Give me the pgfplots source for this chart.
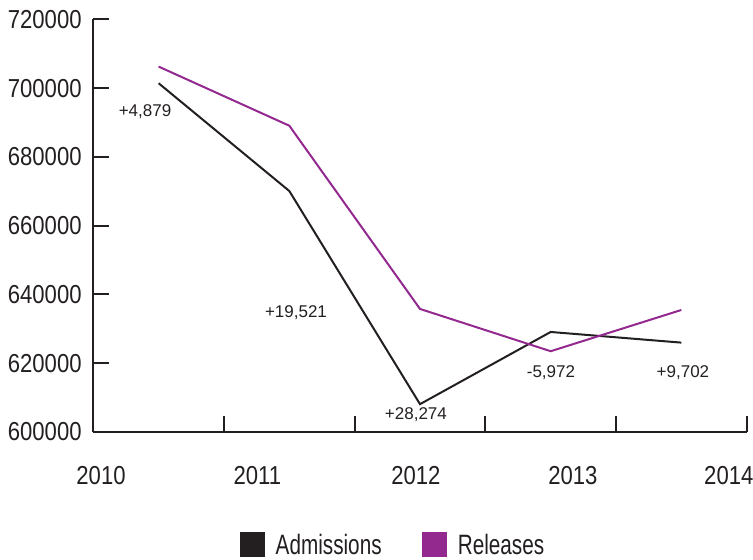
\documentclass[border=0pt]{standalone}
\usepackage{fontspec}
\setmainfont{Liberation Sans}
\newfontfamily\condfont{Liberation Sans}[FakeStretch=0.85]
\newfontfamily\legfont{Liberation Sans}[FakeStretch=0.74]
\usepackage{pgfplots}
\pgfplotsset{compat=1.18}
\definecolor{ink}{HTML}{231F20}
\definecolor{relpurple}{RGB}{147,40,143}
\newcommand{\tickfont}{\condfont\fontsize{26bp}{30bp}\selectfont}
\newcommand{\notefont}{\fontsize{17bp}{20bp}\selectfont}

\begin{document}
\begin{tikzpicture}
\begin{axis}[
  scale only axis,
  width=653.4bp, height=412.5bp,
  xmin=-0.5, xmax=4.5,
  ymin=600000, ymax=720000,
  axis lines=left,
  axis line style={-, ink, line width=2bp},
  tick style={ink, line width=2bp},
  tick align=inside,
  major tick length=16bp,
  xtick={0.5,1.5,2.5,3.5,4.5},
  xticklabels={},
  ytick={600000,620000,...,720000},
  yticklabel style={font=\tickfont, text=ink, inner sep=0pt, xshift=-11.5bp},
  /pgf/number format/assume math mode=true,
  /pgf/number format/fixed,
  /pgf/number format/precision=0,
  /pgf/number format/1000 sep={},
  scaled y ticks=false,
  legend columns=2,
  legend style={at={(0.4585,-0.2732)}, anchor=center, draw=none, fill=none,
    font=\legfont\fontsize{28bp}{30bp}\selectfont, text=ink,
    /tikz/column 2/.style={column sep=38bp}},
  legend cell align=left,
  clip=false,
]
\addplot[ink, line width=2bp, forget plot] coordinates {
  (0,701450) (1,670100) (2,608100) (3,629100) (4,626000)
};
\addplot[relpurple, line width=2bp, forget plot] coordinates {
  (0,706300) (1,689100) (2,635800) (3,623500) (4,635500)
};
\addlegendimage{legend image code/.code={\fill[ink] (0bp,-12bp) rectangle (24bp,12bp);
  \path[draw=none] (0bp,0bp) -- (34bp,0bp);}}
\addlegendentry{Admissions}
\addlegendimage{legend image code/.code={\fill[relpurple] (0bp,-12bp) rectangle (24bp,12bp);
  \path[draw=none] (0bp,0bp) -- (34bp,0bp);}}
\addlegendentry{Releases}

% year labels sit between the ticks, as in the source
\foreach \xx/\lab in {-0.441/2010, 0.756/2011, 1.969/2012, 3.170/2013, 4.363/2014}{
  \edef\tmp{\noexpand\node[font=\noexpand\tickfont, text=ink, inner sep=0pt]
    at (axis cs:\xx,600000) [yshift=-44bp] {\lab};}
  \tmp
}

% differences
\node[font=\notefont, text=ink] at (axis cs:-0.104,693090) {+4,879};
\node[font=\notefont, text=ink] at (axis cs:1.051,634620) {+19,521};
\node[font=\notefont, text=ink] at (axis cs:1.969,604950) {+28,274};
\node[font=\notefont, text=ink] at (axis cs:3.002,617160) {-5,972};
\node[font=\notefont, text=ink] at (axis cs:4.012,617160) {+9,702};
\end{axis}
\pgfresetboundingbox
\path (-93.3bp,-128bp) rectangle (659.7bp,432bp);
\end{tikzpicture}
\end{document}
